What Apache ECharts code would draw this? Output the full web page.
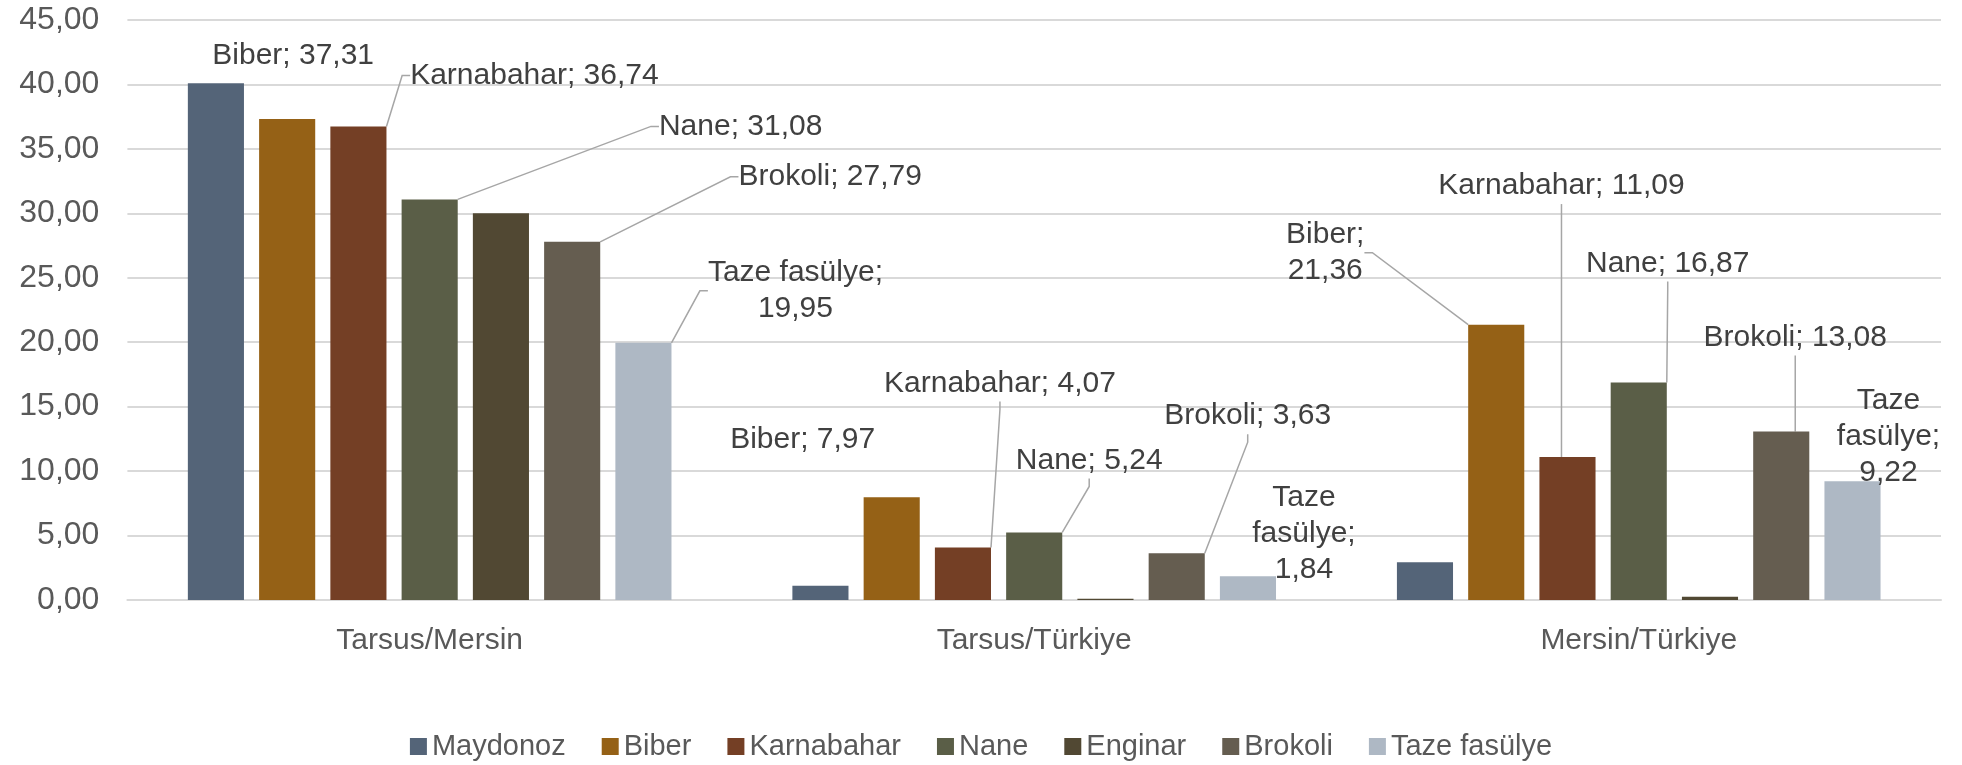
<!DOCTYPE html>
<html>
<head>
<meta charset="utf-8">
<script src="https://cdn.jsdelivr.net/npm/echarts@6/dist/echarts.min.js"></script>
<style>
  html, body { margin: 0; padding: 0; background: #ffffff; }
  #chart { width: 1962px; height: 765px; }
</style>
</head>
<body>
<div id="chart"></div>
<script>
// ---- data ----
const categories = ['Tarsus/Mersin', 'Tarsus/Türkiye', 'Mersin/Türkiye'];
const seriesNames = ['Maydonoz', 'Biber', 'Karnabahar', 'Nane', 'Enginar', 'Brokoli', 'Taze fasülye'];
const maydonoz    = [40.10, 1.11, 2.92];
const biber       = [37.31, 7.97, 21.36];
const karnabahar  = [36.74, 4.07, 11.09];
const nane        = [31.08, 5.24, 16.87];
const enginar     = [30.00, 0.10, 0.25];
const brokoli     = [27.79, 3.63, 13.08];
const tazeFasulye = [19.95, 1.84, 9.22];
const yMin = 0, yMax = 45, yStep = 5;

// ---- styles ----
const colors = ['#546478', '#956116', '#743F25', '#5A5E47', '#514833', '#655D50', '#AEB8C4'];
const FONT = "'Liberation Sans', Arial, sans-serif";
// label placement relative to bar top centre: [dx, dy, lineMode, leaderLine]
const labelPlacement = {
  'Biber':        [[6, -63, 1, false], [-89, -58, 1, false], [-171, -72, 2, true]],
  'Karnabahar':   [[176, -51, 1, true], [37, -164, 1, true], [-6, -271, 1, true]],
  'Nane':         [[311, -73, 1, true], [55, -72, 1, true], [29, -119, 1, true]],
  'Brokoli':      [[258, -65, 1, true], [71, -137, 1, true], [14, -94, 1, true]],
  'Taze fasülye': [[152, -52, 2, true], [56, -43, 3, false], [36, -44, 3, false]]
};

const valuesList = [maydonoz, biber, karnabahar, nane, enginar, brokoli, tazeFasulye];
const fmt = v => v.toFixed(2).replace('.', ',');

function labelText(name, v, mode) {
  if (mode === 2) return name + ';\n' + fmt(v);
  if (mode === 3) return name.split(' ').join('\n') + ';\n' + fmt(v);
  return name + '; ' + fmt(v);
}

const series = seriesNames.map((name, si) => {
  const place = labelPlacement[name];
  return {
    name: name,
    type: 'bar',
    barGap: '27%',
    barCategoryGap: '20%',
    itemStyle: { color: colors[si] },
    data: valuesList[si].map((v, ci) => ({
      value: v,
      labelLine: { show: !!(place && place[ci][3]) }
    })),
    label: {
      show: !!place,
      position: 'top',
      color: '#404040',
      fontFamily: FONT,
      fontSize: 30,
      lineHeight: 36,
      align: 'center',
      formatter: p => labelText(name, p.value, place ? place[p.dataIndex][2] : 1)
    },
    labelLine: {
      show: false,
      length2: 8,
      lineStyle: { color: '#A6A6A6', width: 1.5 }
    },
    labelLayout: function (params) {
      if (!place) return {};
      const o = place[params.dataIndex];
      return {
        x: params.rect.x + params.rect.width / 2 + o[0],
        y: params.rect.y + o[1],
        align: 'center',
        verticalAlign: 'middle'
      };
    }
  };
});

const chart = echarts.init(document.getElementById('chart'), null, { renderer: 'canvas' });
chart.setOption({
  animation: false,
  backgroundColor: '#ffffff',
  color: colors,
  textStyle: { fontFamily: FONT },
  grid: { left: 127.4, right: 21, top: 20, bottom: 165, containLabel: false },
  legend: {
    data: seriesNames,
    top: 727,
    left: 'center',
    icon: 'rect',
    itemWidth: 17,
    itemHeight: 17,
    itemGap: 36,
    textStyle: { color: '#595959', fontSize: 29, fontFamily: FONT }
  },
  xAxis: {
    type: 'category',
    data: categories,
    axisTick: { show: false },
    axisLine: { show: true, lineStyle: { color: '#D9D9D9', width: 2 } },
    axisLabel: { color: '#595959', fontSize: 30, fontFamily: FONT, margin: 26 }
  },
  yAxis: {
    type: 'value',
    min: yMin,
    max: yMax,
    interval: yStep,
    axisLine: { show: false },
    axisTick: { show: false },
    splitLine: { lineStyle: { color: '#D9D9D9', width: 2 } },
    axisLabel: { color: '#595959', fontSize: 32, fontFamily: FONT, margin: 28, formatter: v => fmt(v) }
  },
  series: series
});
</script>
</body>
</html>
